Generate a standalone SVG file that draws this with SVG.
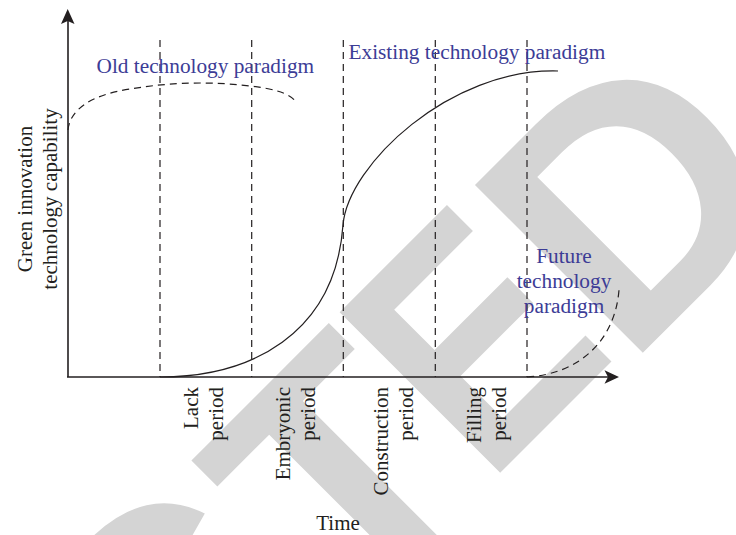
<svg xmlns="http://www.w3.org/2000/svg" width="736" height="535" viewBox="0 0 736 535">
<style>
.wm{font-family:"Liberation Sans",Arial,sans-serif;font-weight:bold;font-size:330px;fill:#d4d4d4}
.ax{stroke:#231f20;stroke-width:1.6;fill:none}
.head{fill:#231f20;stroke:none}
.dash{stroke:#231f20;stroke-width:1.2;fill:none;stroke-dasharray:7 5}
.solid{stroke:#231f20;stroke-width:1.2;fill:none}
.lbl{font-family:"Liberation Serif","Times New Roman",serif;font-size:21px;fill:#231f20}
.blue{font-family:"Liberation Serif","Times New Roman",serif;font-size:21.3px;fill:#3c3c96}
</style>
<rect width="736" height="535" fill="#ffffff"/>
<g id="watermark">
<g transform="translate(-18,0) rotate(-45)">
<text class="wm" x="-432" y="688">C</text>
</g>
<g transform="rotate(-45)">
<text class="wm" x="-194" y="688">T</text>
<text class="wm" transform="translate(21,688) scale(0.85,1)" x="-24" y="0">E</text>
<text class="wm" x="182" y="704" style="font-size:345px">D</text>
</g>
</g>
<g id="axes">
<line class="ax" x1="68" y1="377" x2="68" y2="20"/>
<path class="head" d="M67.7,9 L74.5,24 L67.7,21 L61,24 Z"/>
<line class="ax" x1="67" y1="377" x2="610" y2="377"/>
<path class="head" d="M619,377 L604.5,370.3 L608,377 L604.5,383.7 Z"/>
</g>
<g id="period-dividers">
<line class="dash" x1="160" y1="40" x2="160" y2="377"/>
<line class="dash" x1="251.7" y1="40" x2="251.7" y2="377"/>
<line class="dash" x1="343.3" y1="40" x2="343.3" y2="377"/>
<line class="dash" x1="435.3" y1="40" x2="435.3" y2="377"/>
<line class="dash" x1="527" y1="40" x2="527" y2="377"/>
</g>
<g id="curves">
<path id="old-curve" class="dash" d="M68,130 C70,110 90,95 130,89 C160,84 200,80 250,86 C270,88 290,93 295,101"/>
<path id="existing-curve" class="solid" d="M160,377 C250,377 335,335 343,225 C348,165 450,68 558,71"/>
<path id="future-curve" class="dash" d="M527,377 C580,374 615,340 619,290"/>
</g>
<g id="paradigm-labels">
<text class="blue" x="96.5" y="73">Old technology paradigm</text>
<text class="blue" x="348.5" y="59">Existing technology paradigm</text>
<text class="blue" text-anchor="middle" x="564" y="263">Future</text>
<text class="blue" text-anchor="middle" x="564" y="288">technology</text>
<text class="blue" text-anchor="middle" x="564" y="313">paradigm</text>
</g>
<g id="y-axis-label" class="lbl" text-anchor="middle">
<text transform="translate(32,199) rotate(-90)">Green innovation</text>
<text transform="translate(57,199) rotate(-90)">technology capability</text>
</g>
<g id="period-labels" class="lbl" text-anchor="end">
<text transform="translate(198,387) rotate(-90)">Lack</text>
<text transform="translate(223,387) rotate(-90)">period</text>
<text transform="translate(290,387) rotate(-90)">Embryonic</text>
<text transform="translate(315,387) rotate(-90)">period</text>
<text transform="translate(388,387) rotate(-90)">Construction</text>
<text transform="translate(413,387) rotate(-90)">period</text>
<text transform="translate(481,387) rotate(-90)">Filling</text>
<text transform="translate(506,387) rotate(-90)">period</text>
</g>
<g id="x-axis-label">
<text class="lbl" text-anchor="middle" x="338" y="530">Time</text>
</g>
</svg>
